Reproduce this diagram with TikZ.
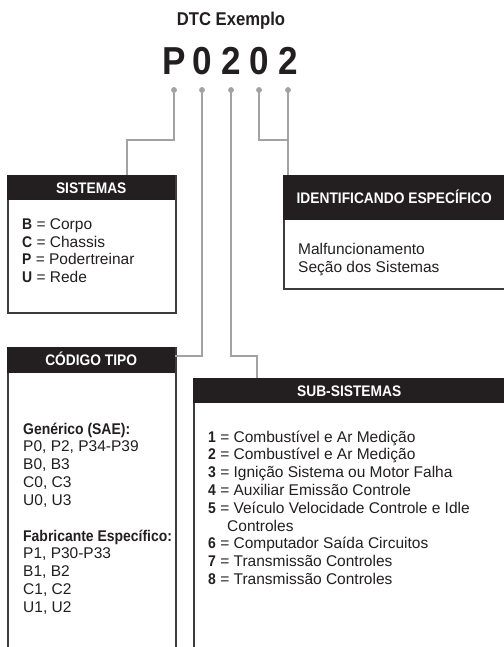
\documentclass[tikz,border=0pt]{standalone}
\usepackage{fontspec}
\setmainfont{Liberation Sans}[BoldFeatures={FakeStretch=0.9}]
\definecolor{hdrblack}{HTML}{231F20}
\definecolor{ink}{HTML}{231F20}
\definecolor{linegray}{HTML}{A3A3A3}
\definecolor{boxborder}{HTML}{3C3C3C}
\newcommand\myBody{\fontsize{15.5}{18}\selectfont}
\newcommand\myHdr{\fontsize{15.3}{18}\selectfont\bfseries}
\tikzset{
  conn/.style={draw=linegray, line width=2pt},
  dotst/.style={circle, fill=linegray, inner sep=0pt, minimum size=5.5pt},
  boxst/.style={draw=boxborder, line width=1.6pt, fill=white, anchor=north west, inner sep=0pt},
  hdrst/.style={fill=hdrblack, text=white, font=\myHdr, anchor=north west, inner sep=0pt,
                text height=11pt, text depth=0pt},
  txt/.style={anchor=base west, inner sep=0pt, text=ink, font=\myBody},
  bigch/.style={anchor=base, inner sep=0pt, text=ink, font=\fontsize{39}{40}\selectfont\bfseries},
}
\begin{document}
\begin{tikzpicture}[x=1pt,y=-1pt]
\useasboundingbox[fill=white] (0,0) rectangle (503,647);

% title
\node[anchor=base, inner sep=0pt, text=ink, font=\fontsize{18.5}{20}\selectfont\bfseries] (title) at (231,26) {DTC Exemplo};
\node[bigch] (c1) at (174,75) {P};
\node[bigch] (c2) at (202,75) {0};
\node[bigch] (c3) at (231,75) {2};
\node[bigch] (c4) at (259,75) {0};
\node[bigch] (c5) at (288,75) {2};

% boxes
\node[boxst, minimum width=168pt, minimum height=137pt] (sis) at (7,175) {};
\node[hdrst, minimum width=168pt, minimum height=25pt] (sish) at (7,175) {SISTEMAS};
\node[boxst, minimum width=222pt, minimum height=113pt] (ide) at (283,175) {};
\node[hdrst, minimum width=222pt, minimum height=45pt] (ideh) at (283,175) {IDENTIFICANDO ESPECÍFICO};
\node[boxst, minimum width=168pt, minimum height=320pt] (cod) at (7,347) {};
\node[hdrst, minimum width=168pt, minimum height=26pt] (codh) at (7,347) {CÓDIGO TIPO};
\node[boxst, minimum width=312pt, minimum height=300pt] (sub) at (193,378) {};
\node[hdrst, minimum width=312pt, minimum height=25pt] (subh) at (193,378) {SUB-SISTEMAS};

% dots
\node[dotst] (d1) at (174,90) {};
\node[dotst] (d2) at (202,90) {};
\node[dotst] (d3) at (231,90) {};
\node[dotst] (d4) at (259,90) {};
\node[dotst] (d5) at (288,90) {};

% connectors
\coordinate (k1) at (127,140);
\coordinate (k2) at (175,356);
\coordinate (k3) at (257,356);
\coordinate (k4) at (288,140);
\draw[conn] (d1.center) |- (k1) -- (k1 |- sish.north);
\draw[conn] (d2.center) |- (k2);
\draw[conn] (d3.center) |- (k3) -- (k3 |- subh.north);
\draw[conn] (d4.center) |- (k4);
\draw[conn] (d5.center) -- (d5 |- ideh.north);
\foreach \d in {d1,d2,d3,d4,d5} \node[dotst] at (\d) {};

% SISTEMAS text
\node[txt] (s1) at (22,229) {\textbf{B} = Corpo};
\node[txt] (s2) at (22,247) {\textbf{C} = Chassis};
\node[txt] (s3) at (22,264.5) {\textbf{P} = Podertreinar};
\node[txt] (s4) at (22,282.5) {\textbf{U} = Rede};

% IDENTIFICANDO text
\node[txt] (i1) at (298,254) {Malfuncionamento};
\node[txt] (i2) at (298,272.5) {Seção dos Sistemas};

% CODIGO text
\node[txt] (t1) at (23,434) {\textbf{Genérico (SAE):}};
\node[txt] (t2) at (23,451.8) {P0, P2, P34-P39};
\node[txt] (t3) at (23,469.5) {B0, B3};
\node[txt] (t4) at (23,487.3) {C0, C3};
\node[txt] (t5) at (23,505) {U0, U3};
\node[txt] (t6) at (23,541) {\textbf{Fabricante Específico:}};
\node[txt] (t7) at (23,558.8) {P1, P30-P33};
\node[txt] (t8) at (23,576.5) {B1, B2};
\node[txt] (t9) at (23,594.3) {C1, C2};
\node[txt] (t10) at (23,612) {U1, U2};

% SUB-SISTEMAS text
\node[txt] (u1) at (208,442) {\textbf{1} = Combustível e Ar Medição};
\node[txt] (u2) at (208,459.8) {\textbf{2} = Combustível e Ar Medição};
\node[txt] (u3) at (208,477.6) {\textbf{3} = Ignição Sistema ou Motor Falha};
\node[txt] (u4) at (208,495.4) {\textbf{4} = Auxiliar Emissão Controle};
\node[txt] (u5) at (208,513.2) {\textbf{5} = Veículo Velocidade Controle e Idle};
\node[txt] (u5b) at (227,531) {Controles};
\node[txt] (u6) at (208,548.8) {\textbf{6} = Computador Saída Circuitos};
\node[txt] (u7) at (208,566.6) {\textbf{7} = Transmissão Controles};
\node[txt] (u8) at (208,584.4) {\textbf{8} = Transmissão Controles};
\end{tikzpicture}
\end{document}
